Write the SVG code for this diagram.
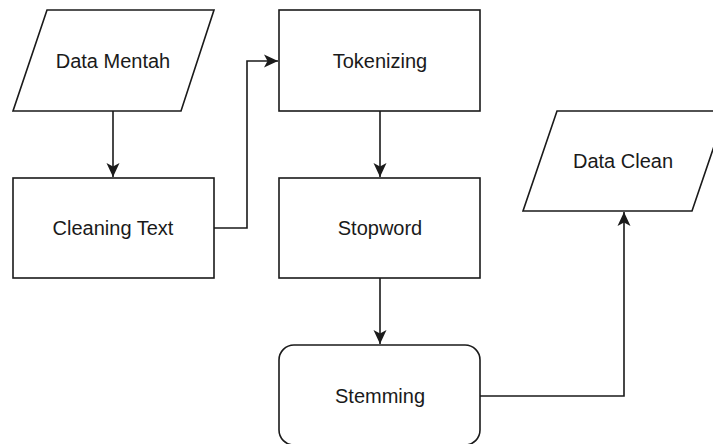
<svg xmlns="http://www.w3.org/2000/svg" width="713" height="444" viewBox="0 0 713 444">
<style>
.s{fill:#fff;stroke:#1a1a1a;stroke-width:1.6}
.t{font-family:"Liberation Sans",Arial,sans-serif;font-size:20px;fill:#1a1a1a;text-anchor:middle;dominant-baseline:central}
.c{fill:none;stroke:#1a1a1a;stroke-width:1.6}
</style>
<defs>
<marker id="a" markerWidth="16" markerHeight="16" viewBox="0 0 16 16" refX="15" refY="8" orient="auto" markerUnits="userSpaceOnUse">
<path d="M1,1.5 L15,8 L1,14.5 L4.5,8 Z" fill="#1a1a1a"/>
</marker>
</defs>
<rect width="713" height="444" fill="#fff"/>
<g id="connectors">
<path class="c" d="M113,111 V177" marker-end="url(#a)"/>
<path class="c" d="M214,228 H247 V61 H278" marker-end="url(#a)"/>
<path class="c" d="M380,111 V177" marker-end="url(#a)"/>
<path class="c" d="M380,278 V344" marker-end="url(#a)"/>
<path class="c" d="M480,396 H624 V212" marker-end="url(#a)"/>
</g>
<g id="data-mentah">
<path class="s" d="M47,10 H214 L181,111 H13 Z"/>
<text class="t" x="113" y="61">Data Mentah</text>
</g>
<g id="cleaning-text">
<rect class="s" x="13" y="178" width="201" height="100"/>
<text class="t" x="113" y="228">Cleaning Text</text>
</g>
<g id="tokenizing">
<rect class="s" x="279" y="10" width="201" height="101"/>
<text class="t" x="380" y="61">Tokenizing</text>
</g>
<g id="stopword">
<rect class="s" x="279" y="178" width="201" height="100"/>
<text class="t" x="380" y="228">Stopword</text>
</g>
<g id="stemming">
<rect class="s" x="279" y="345" width="201" height="100" rx="15" ry="15"/>
<text class="t" x="380" y="396">Stemming</text>
</g>
<g id="data-clean">
<path class="s" d="M557,111 H726 L692,211 H523 Z"/>
<text class="t" x="623" y="161">Data Clean</text>
</g>
</svg>
